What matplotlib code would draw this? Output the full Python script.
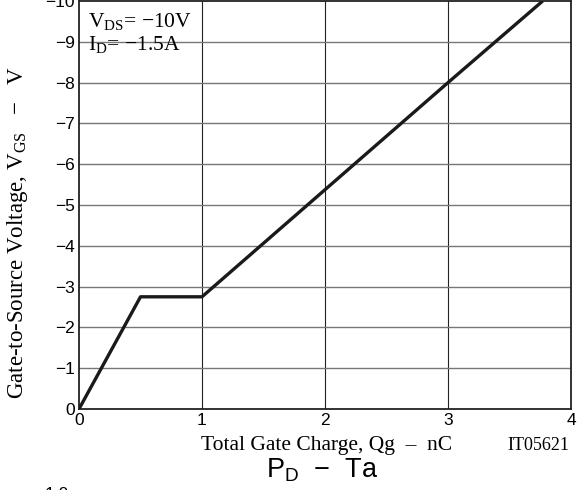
import matplotlib.pyplot as plt
import numpy as np

# gate charge curve (nC, V)
qg = [0.0, 0.5, 1.0, 3.0, 3.77]
vgs = [0.0, -2.75, -2.75, -8.0, -10.0]

x_ticks = [0, 1, 2, 3, 4]
y_ticks = [0, -1, -2, -3, -4, -5, -6, -7, -8, -9, -10]

serif = 'Liberation Serif'
sans = 'Liberation Sans'

fig = plt.figure(figsize=(5.86, 4.90), dpi=100)
ax = fig.add_axes([79 / 586, 1 - 409 / 490, (571 - 79) / 586, 408 / 490])

ax.plot(qg, vgs, color='#1a1a1a', lw=2.4, solid_capstyle='butt', zorder=3)

ax.set_xlim(0, 4)
ax.set_ylim(0, -10)
ax.set_xticks(x_ticks)
ax.set_yticks(y_ticks)
ax.set_xticklabels([str(t) for t in x_ticks], fontfamily=sans, fontsize=12.5)
ax.set_yticklabels([str(t).replace('-', '\u2212') for t in y_ticks], fontfamily=sans, fontsize=12.5)
ax.tick_params(length=0, pad=3)

for t in x_ticks[1:-1]:
    ax.axvline(t, color='#222222', lw=0.8, zorder=1)
for t in y_ticks[1:-1]:
    ax.axhline(t, color='#777777', lw=1.0, zorder=1)

for s in ax.spines.values():
    s.set_linewidth(1.3)
    s.set_color('#222222')

ax.text(0.073, -9.36, r'V$_{\mathregular{DS}}$= $\mathregular{-}$10V', fontfamily=serif, fontsize=15.5, va='baseline')
ax.text(0.073, -8.80, r'I$_{\mathregular{D}}$= $\mathregular{-}$1.5A', fontfamily=serif, fontsize=15.5, va='baseline')

fig.text(18 / 586, 1 - 233 / 490, r'Gate-to-Source Voltage, V$_{\mathregular{GS}}$   $\mathregular{-}$   V',
         fontfamily=serif, fontsize=16.5, rotation=90, ha='center', va='center')
fig.text(327 / 586, 1 - 445 / 490, 'Total Gate Charge, Qg  \u2013  nC',
         fontfamily=serif, fontsize=15.5, ha='center', va='center')
fig.text(538 / 586, 1 - 445 / 490, 'IT05621', fontfamily=serif, fontsize=13, ha='center', va='center')
fig.text(322 / 586, 1 - 470 / 490, r'P$_{\mathregular{D}}$  $\mathregular{-}$  Ta', fontfamily=sans, fontsize=19.5,
         ha='center', va='center')
fig.text(57 / 586, 1 - 494 / 490, '1.0', fontfamily=sans, fontsize=12.5, ha='center', va='center')

fig.savefig('out.png', dpi=100)
